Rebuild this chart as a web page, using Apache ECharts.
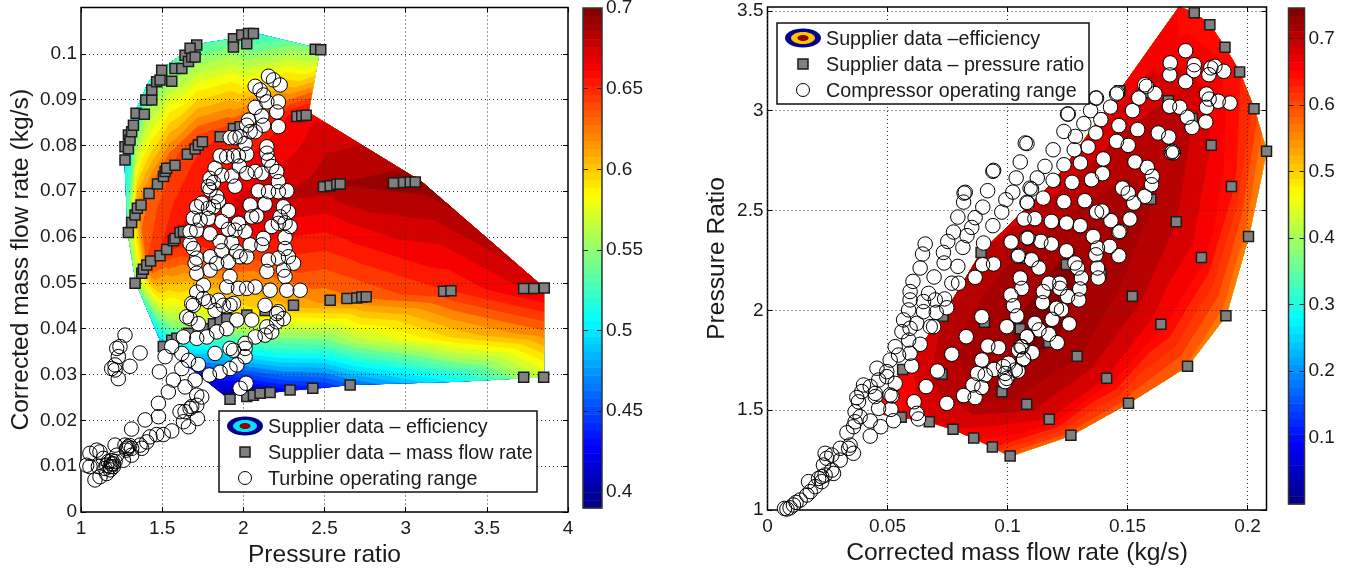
<!DOCTYPE html>
<html><head><meta charset="utf-8"><style>html,body{margin:0;padding:0;background:#fff}#c{width:1358px;height:570px}</style>
<script src="https://cdn.jsdelivr.net/npm/echarts@6/dist/echarts.min.js"></script></head><body><div id="c"></div>
<script>
// ---- tick labels
const turbineXTicks=[1,1.5,2,2.5,3,3.5,4];
const turbineYTicks=[0,0.01,0.02,0.03,0.04,0.05,0.06,0.07,0.08,0.09,0.1];
const turbineBarTicks=[0.4,0.45,0.5,0.55,0.6,0.65,0.7];
const compXTicks=[0,0.05,0.1,0.15,0.2];
const compYTicks=[1,1.5,2,2.5,3,3.5];
const compBarTicks=[0.1,0.2,0.3,0.4,0.5,0.6,0.7];
// ---- turbine efficiency map: rows of [pressure ratio, mass flow, efficiency]
const turbineEffA=[[1.27,.077,.505],[1.33,.087,.51],[1.42,.094,.525],[1.55,.098,.535],[1.71,.102,.53],[1.95,.1033,.535],[2.09,.1043,.52],[2.3,.1025,.54],[2.47,.101,.545]];
const turbineEffB=[[1.29,.061,.55],[1.35,.067,.62],[1.45,.072,.63],[1.55,.077,.635],[1.72,.081,.645],[1.9,.082,.65],[2.03,.084,.65],[2.2,.086,.655],[2.4,.0872,.665]];
const turbineEffC=[[1.34,.05,.55],[1.42,.054,.64],[1.5,.057,.65],[1.6,.06,.66],[1.72,.0615,.665],[2.0,.065,.675],[2.5,.0715,.685],[2.6,.0716,.69],[3.1,.072,.695]];
const turbineEffD=[[1.5,.0365,.49],[1.6,.038,.53],[1.7,.04,.55],[1.9,.042,.575],[2.1,.043,.59],[2.5,.046,.62],[2.75,.047,.63],[3.3,.0485,.65],[3.85,.049,.675]];
const turbineEffDE=[[1.69,.031,.44],[1.8,.0319,.465],[1.9,.033,.48],[2.05,.0341,.50],[2.2,.0348,.515],[2.5,.0366,.535],[2.7,.0374,.56],[3.3,.0385,.60],[3.85,.0392,.625]];
const turbineEffE=[[1.88,.0255,.395],[2.0,.0258,.40],[2.1,.026,.41],[2.2,.0262,.42],[2.3,.0266,.43],[2.5,.0272,.44],[2.65,.0278,.46],[3.3,.0285,.505],[3.85,.0295,.565]];
// ---- compressor efficiency map: rows of [mass flow, pressure ratio, efficiency]
const compEff1=[[.044,1.487,.63],[.0557,1.465,.65],[.0674,1.442,.67],[.0773,1.404,.67],[.0859,1.36,.655],[.0937,1.315,.635],[.1011,1.27,.58]];
const compEff2=[[.0563,1.704,.66],[.0727,1.68,.70],[.0852,1.64,.71],[.0977,1.592,.72],[.108,1.53,.70],[.1174,1.454,.67],[.1264,1.374,.585]];
const compEff3=[[.0731,1.97,.69],[.0904,1.94,.72],[.1053,1.908,.73],[.1172,1.84,.73],[.129,1.77,.71],[.1413,1.66,.67],[.1504,1.535,.585]];
const compEff4=[[.089,2.29,.69],[.108,2.26,.715],[.1245,2.23,.73],[.139,2.18,.72],[.152,2.07,.70],[.1639,1.93,.66],[.175,1.72,.575]];
const compEff5=[[.1197,2.65,.68],[.1347,2.65,.70],[.148,2.62,.71],[.1597,2.556,.71],[.1703,2.444,.69],[.1808,2.265,.66],[.191,1.973,.565]];
const compEff6=[[.1468,3.1,.66],[.157,3.09,.68],[.167,3.05,.69],[.177,2.96,.69],[.1849,2.827,.67],[.1933,2.62,.64],[.2004,2.37,.565]];
const compEff7=[[.1715,3.519,.65],[.1778,3.49,.64],[.1843,3.43,.64],[.1906,3.317,.645],[.1967,3.193,.635],[.2027,3.01,.61],[.2079,2.797,.555]];
// ---- supplier points
const turbineSquares=[[1.271,.0768],[1.271,.0797],[1.292,.0793],[1.292,.0823],[1.302,.0812],[1.312,.083],[1.323,.0844],[1.339,.087],[1.39,.0868],[1.399,.0899],[1.436,.0899],[1.436,.0921],[1.466,.0939],[1.487,.0943],[1.497,.0964],[1.559,.094],[1.579,.0968],[1.621,.0968],[1.641,.0997],[1.662,.0983],[1.682,.0993],[1.713,.1019],[1.672,.1012],[1.703,.0993],[1.939,.1033],[1.99,.1041],[2.032,.1044],[2.062,.1044],[1.939,.1015],[2.021,.1022],[2.443,.101],[2.477,.1009],
[1.292,.061],[1.312,.0632],[1.333,.0648],[1.347,.0663],[1.37,.067],[1.419,.0695],[1.471,.0716],[1.508,.0732],[1.518,.0743],[1.528,.075],[1.579,.0757],[1.655,.0781],[1.703,.0792],[1.723,.0801],[1.748,.0808],[1.857,.0819],[1.939,.0837],[1.98,.0841],[2.33,.0863],[2.36,.0865],[2.387,.0866],
[1.333,.0499],[1.374,.0521],[1.384,.053],[1.405,.0539],[1.429,.0548],[1.487,.0559],[1.528,.0573],[1.569,.0592],[1.579,.0597],[1.61,.061],[1.631,.0612],[2.494,.071],[2.535,.0712],[2.576,.0715],[2.597,.0716],[2.925,.0718],[2.987,.0719],[3.028,.072],[3.059,.072],
[1.507,.0361],[1.559,.0375],[1.59,.0379],[1.662,.039],[1.754,.04],[1.816,.0411],[1.857,.0419],[1.898,.0422],[2.021,.043],[2.134,.044],[2.309,.0451],[2.535,.0462],[2.638,.0466],[2.699,.0467],[2.73,.0469],[2.757,.047],[3.234,.0482],[3.279,.0483],[3.727,.0488],[3.789,.0488],[3.854,.0489],
[1.918,.0246],[2.021,.0252],[2.062,.0255],[2.103,.0259],[2.165,.0261],[2.288,.0266],[2.428,.027],[2.658,.0277],[3.727,.0294],[3.85,.0294]];
const compSquares=[[.0557,1.465],[.0674,1.442],[.0773,1.404],[.0859,1.36],[.0937,1.315],[.1011,1.27],
[.0563,1.704],[.0727,1.68],[.0977,1.592],[.108,1.53],[.1174,1.454],[.1264,1.374],
[.0731,1.97],[.0904,1.94],[.1053,1.908],[.1172,1.84],[.129,1.77],[.1413,1.66],[.1504,1.535],
[.089,2.29],[.108,2.26],[.1245,2.23],[.139,2.18],[.152,2.07],[.1639,1.93],[.175,1.72],
[.1197,2.65],[.1347,2.65],[.148,2.62],[.1597,2.556],[.1703,2.444],[.1808,2.265],[.191,1.973],
[.1468,3.1],[.157,3.09],[.167,3.05],[.177,2.96],[.1849,2.827],[.1933,2.62],[.2004,2.37],
[.1778,3.49],[.1843,3.43],[.1906,3.317],[.1967,3.193],[.2027,3.01],[.2079,2.797]];
// ---- operating points
const turbineRange=[[2.155,.0951],[2.227,.0932],[2.186,.0943],[2.073,.0929],[2.103,.0921],[2.124,.091],[2.145,.0895],[2.216,.0895],[2.073,.0883],[2.206,.0873],[2.216,.0841],[2.114,.0864],[2.124,.0844],[2.032,.0855],[2.021,.0844],[2.073,.083],[2.042,.083],[1.98,.0819],[1.949,.0817],[1.919,.0817],[2.011,.0804],[2.145,.0797],[2.145,.0783],[2.155,.0768],[2.175,.0754],[2.206,.0743],[2.021,.0781],[1.97,.0777],[1.939,.0777],[1.898,.0775],[1.857,.0777],[1.976,.0755],[1.826,.075],[1.795,.0728],[1.867,.0735],[1.929,.0733],[2.021,.0739],[2.073,.0743],[2.114,.0739],[2.216,.0721],[2.268,.0701],[1.949,.0711],[1.816,.0719],[1.785,.071],[1.836,.0688],[1.795,.0703],[2.093,.0701],[2.155,.0699],[2.216,.0699],[1.744,.0674],[1.713,.0666],[1.816,.0666],[1.785,.0663],[1.847,.0677],[1.908,.0658],[2.042,.067],[2.134,.0672],[2.247,.0666],[2.278,.0655],[2.227,.0644],[1.692,.0641],[1.734,.0637],[1.785,.0641],[2.052,.0644],[2.083,.0646],[1.97,.063],[1.867,.0634],[1.908,.0617],[1.949,.0615],[2.011,.0612],[2.175,.0623],[2.288,.0623],[2.257,.0631],[2.216,.063],[1.713,.0615],[1.672,.0612],[1.795,.0607],[2.257,.0599],[2.124,.0597],[2.114,.0583],[1.857,.059],[1.929,.0588],[2.042,.0583],[2.257,.0575],[1.867,.057],[1.959,.0568],[1.98,.0557],[1.672,.0586],[1.692,.0575],[1.713,.0554],[1.703,.0543],[1.795,.0557],[1.836,.0543],[1.908,.0546],[2.021,.0557],[2.216,.0554],[2.278,.0557],[2.155,.055],[2.309,.0543],[1.713,.0521],[1.795,.0528],[2.145,.0525],[2.247,.0528],[2.257,.0514],[1.918,.0514],
[1.754,.0495],[1.898,.0491],[1.97,.0488],[2.073,.0491],[2.165,.0484],[2.268,.0484],[2.35,.0484],[2.021,.0488],
[1.713,.048],[1.754,.0466],[1.785,.0459],[1.847,.0462],[1.826,.044],[1.877,.0451],[1.918,.0451],[1.939,.0455],[1.682,.0455],[1.692,.0451],[1.651,.0426],[1.672,.0422],[1.723,.0411],[1.96,.0419],[2.052,.0419],[2.134,.0451],[2.206,.0433],[2.216,.0437],[2.247,.0422],[2.206,.0415],[2.145,.0404],[2.175,.0393],[2.134,.0386],[2.073,.0382],[2.011,.0368],[1.631,.0382],[1.713,.0379],[1.775,.0382],[1.836,.0393],[1.898,.04],[1.918,.0357],[1.939,.0353],[1.826,.0346],[2.011,.0357],[2.011,.0339],[1.559,.0361],[1.621,.0346],[1.662,.0331],[1.723,.0322],[1.518,.0339],[1.96,.0321],[1.918,.0313],[1.857,.0305],[1.791,.0299],[1.98,.027],[2.017,.0281],[1.483,.0306],[1.621,.0313],[1.569,.0288],[1.538,.0262],[1.641,.0273],[1.703,.0288],[1.713,.0255],[1.744,.0251],[1.477,.0237],[1.477,.0208],[1.364,.0347],[1.271,.0386],[1.24,.0361],[1.22,.0357],[1.23,.0339],[1.21,.0321],[1.189,.0313],[1.21,.031],[1.23,.0291],[1.302,.0318],[1.312,.0181],[1.395,.0201],[1.61,.0219],[1.641,.0219],[1.672,.0226],[1.682,.023],[1.713,.0233],[1.631,.0197],[1.662,.0186],[1.717,.0204],[1.559,.0177],[1.507,.0169],[1.466,.0169],[1.425,.0164],[1.405,.0153],[1.374,.0139],[1.364,.0146],[1.312,.0139],[1.312,.0124],[1.281,.0139],[1.271,.0146],[1.21,.0146],[1.22,.0124],[1.261,.0113],[1.199,.0099],[1.179,.0099],[1.158,.0102],[1.148,.0095],[1.168,.011],[1.138,.0117],[1.097,.0135],[1.117,.0131],[1.055,.0128],[1.035,.0102],[1.055,.0099],[1.107,.0099],[1.086,.007],[1.117,.0077],[1.158,.0084],[1.189,.0105],[1.2,.0105],[1.19,.0112],[1.21,.011],[1.18,.0092],[1.29,.0142],[1.3,.0145],[1.28,.0135]];
const compRange=[[.1081,2.835],[.1074,2.838],[.0939,2.696],[.0942,2.701],[.1053,2.743],[.1036,2.663],[.1094,2.612],[.1022,2.592],[.0993,2.554],[.0917,2.599],[.0824,2.591],[.0819,2.587],[.0817,2.542],[.1081,2.541],[.0897,2.517],[.0976,2.492],[.0865,2.464],[.0793,2.467],[.0939,2.424],[.0851,2.415],[.0775,2.392],[.0831,2.374],[.0751,2.345],[.0657,2.332],[.09,2.337],[.1015,2.342],[.0646,2.282],[.0733,2.29],[.0814,2.315],[.0736,2.237],[.0636,2.212],[.0793,2.22],[.0896,2.228],[.0942,2.232],[.0694,2.167],[.0606,2.145],[.0768,2.136],[.0796,2.136],[.0865,2.165],[.1081,2.362],[.1069,2.457],[.1046,2.275],[.1053,2.162],
[.119,2.804],[.1235,2.896],[.1283,2.871],[.1318,2.935],[.1253,2.983],[.125,2.983],[.1346,3.0],[.1371,3.063],[.1367,3.063],[.1429,3.018],[.1389,2.955],[.1458,3.088],[.1454,3.083],[.1572,3.13],[.1579,3.122],[.1614,3.085],[.1547,3.063],[.1521,3.0],[.1464,2.925],[.1542,2.905],[.1368,2.888],[.1454,2.846],[.1503,2.826],[.1628,2.888],[.1672,2.868],[.1688,2.796],[.1683,2.791],[.1691,2.788],[.1278,2.804],[.1336,2.818],[.1399,2.758],[.1235,2.729],[.1304,2.738],[.1156,2.721],[.1531,2.743],[.1582,2.716],[.1603,2.671],[.16,2.629],[.1572,2.571],[.1526,2.537],[.1503,2.587],[.1479,2.612],[.1396,2.684],[.135,2.654],[.1269,2.641],[.119,2.651],[.1124,2.663],[.11,2.607],[.1149,2.562],[.1235,2.544],[.1322,2.549],[.1083,2.537],[.1371,2.492],[.1394,2.497],[.1431,2.449],[.151,2.457],[.1114,2.459],[.1183,2.445],[.1246,2.437],[.1303,2.424],[.1468,2.395],[.1464,2.392],[.1086,2.362],[.1139,2.345],[.1183,2.332],[.1357,2.37],[.1375,2.312],[.1368,2.278],[.1426,2.32],[.1464,2.273],[.1246,2.298],[.1044,2.27],[.11,2.253],[.1131,2.212],[.1281,2.237],[.1292,2.212],[.1308,2.162],[.1375,2.212],[.1378,2.162],[.1172,2.136],[.1218,2.136],
[.1742,3.3],[.1678,3.239],[.1778,3.23],[.1776,3.2],[.1864,3.222],[.1847,3.214],[.1901,3.197],[.1676,3.179],[.1839,3.18],[.1742,3.145],[.1829,3.083],[.184,3.058],[.1878,3.047],[.1927,3.038],[.1829,3.017],[.1675,3.022],[.1718,3.017],[.1749,2.967],[.1769,2.916],[.1826,2.943],
[.1149,2.094],[.1218,2.11],[.125,2.069],[.1297,2.052],[.1146,2.038],[.1204,2.01],[.1225,2.002],[.1186,1.955],[.1257,1.932],[.1114,1.935],[.1131,1.902],[.1082,1.868],[.1172,1.88],[.1207,1.838],[.1056,1.818],[.1103,1.788],[.1066,1.756],[.1044,1.696],[.1301,2.107],
[.0893,1.968],[.0997,1.918],[.1014,2.077],[.1025,2.023],[.1039,1.972],[.106,2.11],[.1081,1.868],[.0828,1.868],[.0918,1.821],[.0963,1.813],[.0768,1.78],[.0893,1.751],[.0944,1.704],[.0708,1.696],[.0601,1.721],[.0875,1.684],[.0907,1.676],[.1004,1.735],[.0983,1.718],[.099,1.684],[.0997,1.659],[.099,1.643],[.1032,1.701],[.1067,1.756],[.1046,1.801],[.106,1.818],[.0856,1.626],[.0893,1.613],[.0661,1.618],[.0817,1.573],[.0865,1.563],[.0747,1.534],[.0611,1.542],[.0622,1.484],[.0629,1.456],[.0525,1.447],[.0514,1.504],[.0511,1.576],[.0532,1.634],
[.0594,2.094],[.0594,2.052],[.0588,2.002],[.0671,2.085],[.065,2.044],[.065,1.993],[.0699,2.052],[.0738,2.057],[.0747,2.013],[.0703,1.99],[.0678,1.918],[.0692,1.918],[.0567,1.952],[.0622,1.935],[.056,1.893],[.0594,1.91],[.0588,1.851],[.0636,1.83],[.0532,1.818],[.0546,1.776],[.0594,1.785],[.0511,1.751],[.0456,1.71],[.0497,1.693],[.0463,1.651],[.0497,1.668],[.0449,1.584],[.0449,1.568],[.0518,1.571],[.04,1.626],[.0428,1.618],[.0372,1.563],[.0379,1.542],[.0393,1.593],[.0365,1.492],[.0386,1.467],[.0428,1.446],[.0463,1.509],[.0472,1.417],[.0428,1.37],[.0331,1.387],[.0365,1.442],[.0358,1.417],[.0344,1.325],[.0338,1.309],[.0358,1.284],[.0303,1.309],[.0303,1.25],[.0268,1.275],[.024,1.284],[.0247,1.259],[.0268,1.2],[.0275,1.183],[.0233,1.225],[.0213,1.158],[.0171,1.142],[.0226,1.142],[.0199,1.117],[.0178,1.092],[.0164,1.075],[.0136,1.05],[.0119,1.038],[.0108,1.025],[.0094,1.011],[.0081,1.005],[.0071,1.008],[.0226,1.167],[.024,1.175]];

const FONT='"Liberation Sans",Arial,sans-serif';
function jet(t){t=Math.max(0,Math.min(.9999,t));const c=f=>Math.round(255*Math.max(0,Math.min(1,f)));
  const v=4*t;return `rgb(${c(Math.min(v-1.5,-v+4.5))},${c(Math.min(v-.5,-v+3.5))},${c(Math.min(v+.5,-v+2.5))})`;}
function jet64(v,lo,hi){const k=Math.min(63,Math.floor((v-lo)/(hi-lo)*64));return jet((k+.5)/64);}
function triangles(rows){const out=[];for(let r=0;r+1<rows.length;r++){for(let c=0;c+1<rows[r].length;c++){
  const a=rows[r][c],b=rows[r][c+1],d=rows[r+1][c],e=rows[r+1][c+1];
  out.push([a,b,d]);out.push([b,e,d]);}}return out;}
function clipAbove(poly,lev){const res=[];for(let i=0;i<poly.length;i++){const p=poly[i],q=poly[(i+1)%poly.length];
  const pin=p[2]>=lev,qin=q[2]>=lev;
  if(pin)res.push(p);
  if(pin!==qin){const t=(lev-p[2])/(q[2]-p[2]);res.push([p[0]+t*(q[0]-p[0]),p[1]+t*(q[1]-p[1]),lev]);}}
  return res;}
// one data item per contour level, drawn low to high so upper levels paint over lower ones
function contourSeries(name,rows,xi,yi,lo,hi,n){
  const tris=triangles(rows);const step=(hi-lo)/n;const levels=[];
  for(let b=0;b<n;b++)levels.push([rows[0][0][0],rows[0][0][1],lo+b*step]);
  return {type:'custom',name,xAxisIndex:xi,yAxisIndex:yi,z:-1,silent:true,clip:false,data:levels,encode:{x:0,y:1},
   renderItem(p,api){const l0=api.value(2);const col=jet64(l0+step*.5,lo,hi);const ch=[];
    for(const t of tris){const poly=clipAbove(t,l0-1e-9);if(poly.length<3)continue;
      ch.push({type:'polygon',shape:{points:poly.map(q=>api.coord([q[0],q[1]]))},style:{fill:col,stroke:col,lineWidth:.7}});}
    return {type:'group',children:ch};}};
}
function barSeries(xi,yi,lo,hi){const cells=[];for(let k=0;k<64;k++)cells.push([lo+(hi-lo)*k/64,lo+(hi-lo)*(k+1)/64,k]);
  return {type:'custom',xAxisIndex:xi,yAxisIndex:yi,silent:true,data:cells,encode:{y:[0,1]},
   renderItem(p,api){const a=api.coord([0,api.value(0)]),b=api.coord([1,api.value(1)]);const col=jet((api.value(2)+.5)/64);
     return {type:'rect',shape:{x:a[0],y:b[1],width:b[0]-a[0],height:a[1]-b[1]+.5},style:{fill:col}};}};}
function pointSeries(xi,yi,name,squares,circles){const a={xAxisIndex:xi,yAxisIndex:yi,type:'scatter',clip:false,silent:true,animation:false};
  return [{...a,name:name[0],data:squares,symbol:'rect',symbolSize:10,z:3,itemStyle:{color:'#808080',borderColor:'#1c1c1c',borderWidth:1.5,opacity:1}},
    {...a,name:name[1],data:circles,symbol:'circle',symbolSize:14.5,z:4,itemStyle:{color:'#fff',opacity:1}},
    {...a,name:name[1]+' outline',data:circles,symbol:'circle',symbolSize:14.5,z:5,itemStyle:{color:'rgba(0,0,0,0)',borderColor:'#000',borderWidth:1,opacity:1}}];}
const GRID=[1,3];
function ax(min,max,ticks,pos,idx,extra){const main=pos==='bottom'||pos==='left';
  return Object.assign({type:'value',gridIndex:idx,position:pos,min,max,scale:true,
   axisLine:{show:false,onZero:false},
   axisTick:{show:true,inside:true,length:5,customValues:ticks,lineStyle:{color:'#000',width:1}},
   axisLabel:{show:main,customValues:ticks,margin:pos==='left'?4:7,fontFamily:FONT,fontSize:19,color:'#1a1a1a',padding:pos==='left'?[3,0,0,0]:0,formatter:v=>String(v)},
   splitLine:{show:main,lineStyle:{color:'#333',type:GRID,width:1}}},extra||{});}
function barAx(min,max,ticks,pos,idx){const right=pos==='right';
  return {type:'value',gridIndex:idx,position:pos,min,max,scale:true,axisLine:{show:false,onZero:false},
   axisTick:{show:true,inside:true,length:5,customValues:ticks,lineStyle:{color:'#222',width:1}},
   axisLabel:{show:right,customValues:ticks,margin:4,fontFamily:FONT,fontSize:19,color:'#1a1a1a',padding:[3,0,0,0],formatter:v=>String(v)},splitLine:{show:false},z:5};}
function hiddenX(idx){return {type:'value',gridIndex:idx,min:0,max:1,show:false};}
const titleStyle={nameLocation:'middle',nameTextStyle:{fontFamily:FONT,fontSize:24.6,color:'#1a1a1a'}};
const frame={show:true,borderColor:'#000',borderWidth:1.5,backgroundColor:'transparent',containLabel:false,outerBoundsMode:'none'};
const option={animation:false,backgroundColor:'#fff',
 grid:[{...frame,left:81,top:7.5,width:487,height:504.5},{...frame,left:767.5,top:7,width:499,height:503},
  {...frame,left:583,top:8,width:19,height:500,borderColor:'#333',z:6},{...frame,left:1288.5,top:8,width:16,height:496,borderColor:'#333',z:6}],
 xAxis:[ax(1,4,turbineXTicks,'bottom',0,{name:'Pressure ratio',nameGap:24,...titleStyle}),ax(1,4,turbineXTicks,'top',0),
  ax(0,.2079,compXTicks,'bottom',1,{name:'Corrected mass flow rate (kg/s)',nameGap:22,...titleStyle}),ax(0,.2079,compXTicks,'top',1),
  hiddenX(2),hiddenX(3)],
 yAxis:[ax(0,.1101,turbineYTicks,'left',0,{name:'Corrected mass flow rate (kg/s)',nameGap:47,...titleStyle}),ax(0,.1101,turbineYTicks,'right',0),
  ax(1,3.519,compYTicks,'left',1,{name:'Pressure Ratio',nameGap:38,...titleStyle}),ax(1,3.519,compYTicks,'right',1),
  barAx(.39,.7,turbineBarTicks,'left',2),barAx(.39,.7,turbineBarTicks,'right',2),
  barAx(0,.7455,compBarTicks,'left',3),barAx(0,.7455,compBarTicks,'right',3)],
 series:[contourSeries('Supplier data – efficiency',[turbineEffA,turbineEffB,turbineEffC,turbineEffD,turbineEffDE,turbineEffE],0,0,.39,.7,30),
  contourSeries('Supplier data –efficiency',[compEff1,compEff2,compEff3,compEff4,compEff5,compEff6,compEff7],2,2,0,.7455,40),
  ...pointSeries(0,0,['Supplier data – mass flow rate','Turbine operating range'],turbineSquares,turbineRange),
  ...pointSeries(2,2,['Supplier data – pressure ratio','Compressor operating range'],compSquares,compRange),
  barSeries(4,5,.39,.7),barSeries(5,7,0,.7455)],
 graphic:[...legend(219,411,318,81,245,426,26,'#00e5ff',['Supplier data – efficiency','Supplier data – mass flow rate','Turbine operating range'],268),
  ...legend(777,23,312,81,803,38,26,'#ffc400',['Supplier data –efficiency','Supplier data – pressure ratio','Compressor operating range'],826)]};
function legend(x,y,w,h,cx,cy,dy,mid,labels,tx){const Z=50;const t=(s,i)=>({type:'text',z:Z,style:{x:tx,y:cy+i*dy+1.5,text:s,fill:'#1a1a1a',font:'19.7px '+FONT,textVerticalAlign:'middle',textAlign:'left'}});
  return [{type:'rect',z:Z,shape:{x,y,width:w,height:h},style:{fill:'#fff',stroke:'#111',lineWidth:1.5}},
   {type:'ellipse',z:Z,shape:{cx,cy,rx:18,ry:9.5},style:{fill:'#00008f'}},
   {type:'ellipse',z:Z,shape:{cx,cy,rx:12,ry:6},style:{fill:mid}},
   {type:'ellipse',z:Z,shape:{cx,cy,rx:5.5,ry:3},style:{fill:'#8f0000'}},
   {type:'rect',z:Z,shape:{x:cx-5,y:cy+dy-5,width:10,height:10},style:{fill:'#808080',stroke:'#1c1c1c',lineWidth:1.5}},
   {type:'circle',z:Z,shape:{cx,cy:cy+2*dy,r:6.5},style:{fill:'#fff',stroke:'#000',lineWidth:1}},
   ...labels.map(t)];}
const chart=echarts.init(document.getElementById('c'),null,{renderer:'canvas',width:1358,height:570});
chart.setOption(option);
</script></body></html>
